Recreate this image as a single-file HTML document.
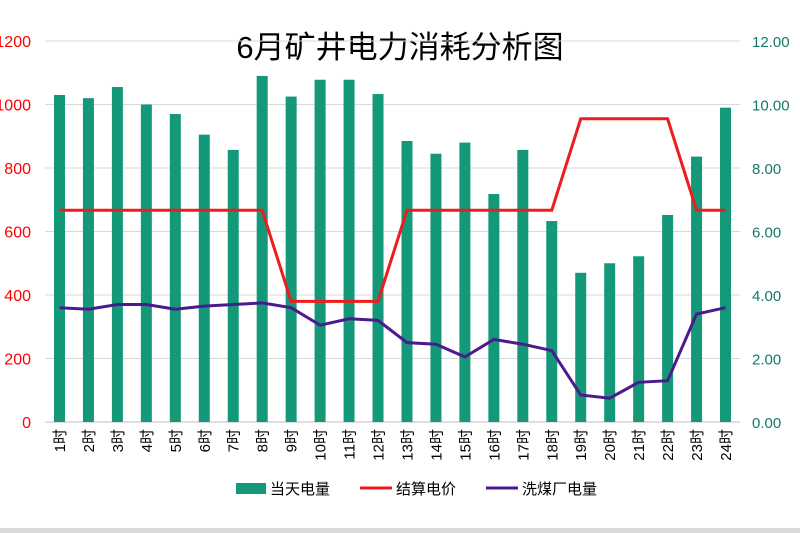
<!DOCTYPE html>
<html><head><meta charset="utf-8"><style>
html,body{margin:0;padding:0;background:#fff;width:800px;height:533px;overflow:hidden}
svg text{font-family:"Liberation Sans","Noto Sans CJK SC",sans-serif}
</style></head><body>
<svg id="c" width="800" height="533" xmlns="http://www.w3.org/2000/svg">
<rect x="0" y="528" width="800" height="5" fill="#d9d9d9"/>
<text x="400" y="58" font-size="31" text-anchor="middle" fill="#000">6月矿井电力消耗分析图</text>
<g id="grid"></g><g id="bars"></g><g id="lines"></g><g id="axes"></g>
<g>
<rect x="236" y="483" width="30" height="11" fill="#13987a"/>
<text x="270" y="494" font-size="15">当天电量</text>
<line x1="360" y1="488" x2="392" y2="488" stroke="#ee1c1c" stroke-width="3"/>
<text x="396" y="494" font-size="15">结算电价</text>
<line x1="486" y1="488" x2="518" y2="488" stroke="#4b1a8c" stroke-width="3"/>
<text x="522" y="494" font-size="15">洗煤厂电量</text>
</g>
</svg>
<script>
const categories=["1时","2时","3时","4时","5时","6时","7时","8时","9时","10时","11时","12时","13时","14时","15时","16时","17时","18时","19时","20时","21时","22时","23时","24时"];
const dailyPower=[1030,1020,1055,1000,970,905,857,1090,1025,1078,1078,1033,885,845,880,718,857,633,470,500,522,652,836,990];
const price=[6.67,6.67,6.67,6.67,6.67,6.67,6.67,6.67,3.8,3.8,3.8,3.8,6.67,6.67,6.67,6.67,6.67,6.67,9.55,9.55,9.55,9.55,6.67,6.67];
const washPower=[3.6,3.55,3.7,3.7,3.55,3.65,3.7,3.75,3.6,3.05,3.25,3.2,2.5,2.45,2.05,2.6,2.45,2.25,0.85,0.75,1.25,1.3,3.4,3.6];
const leftTicks=[0,200,400,600,800,1000,1200];
const rightTicks=["0.00","2.00","4.00","6.00","8.00","10.00","12.00"];
const NS="http://www.w3.org/2000/svg";
const X0=45,X1=740,Y0=422,Y1=41;
const step=(X1-X0)/categories.length;
const xC=i=>X0+step*(i+0.5);
const yL=v=>Y0-(v/1200)*(Y0-Y1);
const yR=v=>Y0-(v/12)*(Y0-Y1);
function mk(tag,attrs,parent){const e=document.createElementNS(NS,tag);for(const k in attrs)e.setAttribute(k,attrs[k]);document.getElementById(parent).appendChild(e);return e;}
leftTicks.forEach((t,i)=>{
 const y=yL(t);
 const g=mk("line",{x1:X0,x2:X1,y1:y,y2:y,stroke:t===0?"#bfbfbf":"#d9d9d9","stroke-width":1},"grid");
 
 
 const l=mk("text",{x:31,y:y+6,"font-size":16,fill:"#ff0000","text-anchor":"end"},"axes");
 l.textContent=t;
 
 
 const r=mk("text",{x:752,y:y+6,"font-size":15,fill:"#127a66"},"axes");
 r.textContent=rightTicks[i];
 
 
});
categories.forEach((c,i)=>{
 const b=mk("rect",{x:xC(i)-5.5,y:yL(dailyPower[i]),width:11,height:Y0-yL(dailyPower[i]),fill:"#13987a"},"bars");
 
 
 const t=mk("text",{x:0,y:0,"font-size":15,"text-anchor":"end",transform:`translate(${xC(i)+5.5},${429}) rotate(-90)`},"axes");
 t.textContent=c;
 
 
});
const p1=mk("polyline",{points:price.map((v,i)=>xC(i)+","+yR(v)).join(" "),fill:"none",stroke:"#ee1c1c","stroke-width":3},"lines");


const p2=mk("polyline",{points:washPower.map((v,i)=>xC(i)+","+yR(v)).join(" "),fill:"none",stroke:"#4b1a8c","stroke-width":3},"lines");


</script>
</body></html>
